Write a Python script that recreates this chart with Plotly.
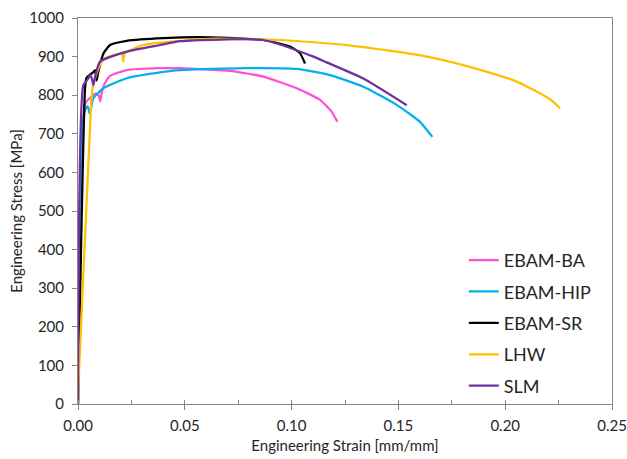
import plotly.graph_objects as go

# EBAM-BA
ba_strain = [0, 0.0033, 0.0060, 0.0085, 0.0098, 0.0104, 0.0112, 0.0126, 0.015, 0.0228, 0.0384, 0.0478, 0.0712, 0.0868, 0.1024, 0.1133, 0.1188, 0.1214]
ba_stress = [0, 778, 795, 805, 798, 784, 810, 831, 850, 865, 870, 870, 863, 848, 818, 788, 757, 731]

# EBAM-HIP
hip_strain = [0, 0.0017, 0.0033, 0.0045, 0.0055, 0.0065, 0.0072, 0.0119, 0.0228, 0.0384, 0.0478, 0.079, 0.1024, 0.118, 0.1336, 0.1492, 0.1601, 0.1659]
hip_stress = [0, 700, 762, 772, 752, 778, 792, 818, 844, 859, 865, 870, 868, 852, 822, 775, 731, 692]

# EBAM-SR
sr_strain = [0, 0.0033, 0.0040, 0.0072, 0.0080, 0.0087, 0.0095, 0.0119, 0.0150, 0.0228, 0.0400, 0.0618, 0.0868, 0.0993, 0.1039, 0.1063]
sr_stress = [0, 818, 845, 860, 865, 838, 860, 908, 930, 941, 948, 950, 943, 926, 909, 882]

# LHW
lhw_strain = [0, 0.0006, 0.0055, 0.0062, 0.0072, 0.0103, 0.0126, 0.0205, 0.0212, 0.0218, 0.0306, 0.0618, 0.0946, 0.1258, 0.1600, 0.1804, 0.2038, 0.2163, 0.2225, 0.2257]
lhw_stress = [0, 100, 700, 783, 831, 878, 896, 907, 887, 908, 930, 946, 943, 930, 904, 878, 839, 805, 783, 766]

# SLM
slm_strain = [0, 0.0025, 0.0048, 0.0056, 0.0064, 0.0072, 0.0082, 0.0103, 0.0228, 0.0384, 0.0478, 0.0868, 0.1102, 0.1164, 0.1336, 0.1539]
slm_stress = [0, 826, 843, 852, 845, 826, 852, 887, 913, 930, 940, 943, 900, 885, 843, 774]

series = [
    ("EBAM-BA", ba_strain, ba_stress, "#FF4FD8"),
    ("EBAM-HIP", hip_strain, hip_stress, "#00B0F0"),
    ("EBAM-SR", sr_strain, sr_stress, "#000000"),
    ("LHW", lhw_strain, lhw_stress, "#FFC000"),
    ("SLM", slm_strain, slm_stress, "#7030A0"),
]

x_ticks = [0, 0.05, 0.10, 0.15, 0.20, 0.25]
y_ticks = list(range(0, 1001, 100))

FONT = "Lato, Open Sans, sans-serif"

fig = go.Figure()
for name, xs, ys, col in series:
    fig.add_trace(go.Scatter(x=xs, y=ys, mode="lines", name=name, legendgroup=name,
                             line=dict(color=col, width=2.25, shape="spline", smoothing=0.5)))

fig.update_layout(
    width=627, height=459,
    margin=dict(l=78, r=15, t=18, b=55),
    paper_bgcolor="white", plot_bgcolor="white",
    font=dict(family=FONT, size=15, color="#262626"),
    showlegend=True,
    legend=dict(x=0.7225, y=0.42, xanchor="left", yanchor="top",
                font=dict(size=18, color="#262626"), bgcolor="rgba(0,0,0,0)",
                traceorder="grouped", tracegroupgap=5, itemwidth=30),
    xaxis=dict(range=[0, 0.25], tickvals=x_ticks, tickformat=".2f", automargin=False,
               title=dict(text="Engineering Strain [mm/mm]", font=dict(size=15), standoff=7),
               showgrid=False, zeroline=False, showline=True, linecolor="#868686", linewidth=1,
               mirror=True, ticks="outside", ticklen=5, tickcolor="#868686", ticklabelstandoff=3,
               minor=dict(dtick=0.025, ticks="inside", ticklen=4, tickcolor="#868686"),
               tickfont=dict(size=15, color="#262626")),
    yaxis=dict(range=[0, 1000], tickvals=y_ticks, automargin=False,
               title=dict(text="Engineering Stress [MPa]", font=dict(size=15), standoff=2),
               showgrid=False, zeroline=False, showline=True, linecolor="#868686", linewidth=1,
               mirror=True, ticks="outside", ticklen=5, tickcolor="#868686", ticklabelstandoff=5,
               tickfont=dict(size=15, color="#262626")),
)

fig.write_html("out.html", config={"displayModeBar": False})

# remove the browser's default page margin so the figure sits at the window's corner
with open("out.html", "r", encoding="utf-8") as f:
    html = f.read()
html = html.replace("<head>", "<head><style>html,body{margin:0;padding:0;overflow:hidden;}</style>", 1)
with open("out.html", "w", encoding="utf-8") as f:
    f.write(html)
